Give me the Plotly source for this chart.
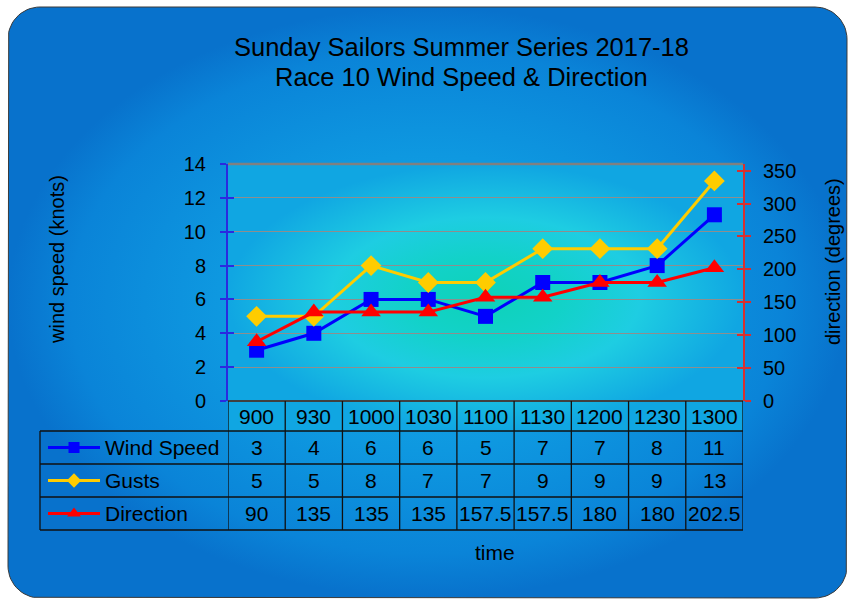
import numpy as np
import plotly.graph_objects as go

# ---------------- data ----------------
times = ["900", "930", "1000", "1030", "1100", "1130", "1200", "1230", "1300"]
wind_speed = [3, 4, 6, 6, 5, 7, 7, 8, 11]
gusts = [5, 5, 8, 7, 7, 9, 9, 9, 13]
direction = [90, 135, 135, 135, 157.5, 157.5, 180, 180, 202.5]
direction_labels = ["90", "135", "135", "135", "157.5", "157.5", "180", "180", "202.5"]

title_lines = ["Sunday Sailors Summer Series 2017-18", "Race 10 Wind Speed & Direction"]

W, H = 848, 599
FONT = "Arial, Liberation Sans, sans-serif"
BLUE = "#0000ff"
GOLD = "#ffcc00"
RED = "#ff0000"

# plot area in pixels
PL, PR, PT, PB = 228, 743, 164, 401
ROWS = [401, 431, 464, 497, 530]   # table row boundaries
TL = 40                            # table left edge

def py(v):
    return 1 - v / H

fig = go.Figure()

# ---------- background (chart area) in pixel subplot ----------
def rounded_rect(x0, y0, x1, y1, r, n=16):
    xs, ys = [], []
    corners = [(x1 - r, y0 + r, -np.pi / 2, 0), (x1 - r, y1 - r, 0, np.pi / 2),
               (x0 + r, y1 - r, np.pi / 2, np.pi), (x0 + r, y0 + r, np.pi, 1.5 * np.pi)]
    for cx, cy, a0, a1 in corners:
        t = np.linspace(a0, a1, n)
        xs += list(cx + r * np.cos(t))
        ys += list(cy + r * np.sin(t))
    xs.append(xs[0]); ys.append(ys[0])
    return xs, ys

bx, by = rounded_rect(8, 7, 847, 598, 32)
fig.add_trace(go.Scatter(
    x=bx, y=by, xaxis="x", yaxis="y", mode="lines", fill="toself",
    line=dict(color="#3a3a3a", width=1),
    fillgradient=dict(type="radial", colorscale=[[0, "#16b0e6"], [0.5, "#0e98e0"],
                                                 [0.85, "#0a84d8"], [1, "#0872cc"]]),
    hoverinfo="skip", showlegend=False))

# plot area gradient (covers plot + header row)
fig.add_trace(go.Scatter(
    x=[PL, PR, PR, PL, PL], y=[PT, PT, ROWS[1], ROWS[1], PT], xaxis="x", yaxis="y",
    mode="lines", fill="toself", line=dict(width=0, color="rgba(0,0,0,0)"),
    fillgradient=dict(type="radial", colorscale=[[0, "#0ed2b8"], [0.3, "#12d2c8"],
                                                 [0.6, "#1ecde2"], [1, "#10a6e2"]]),
    hoverinfo="skip", showlegend=False))

# legend keys in table
keys = [("Wind Speed", BLUE, "square", 11), ("Gusts", GOLD, "diamond", 11), ("Direction", RED, "triangle-up", 12)]
for i, (name, col, sym, ms) in enumerate(keys):
    yc = (ROWS[i + 1] + ROWS[i + 2]) / 2
    fig.add_trace(go.Scatter(x=[48, 100], y=[yc, yc], xaxis="x", yaxis="y", mode="lines",
                             line=dict(color=col, width=3), hoverinfo="skip", showlegend=False))
    fig.add_trace(go.Scatter(x=[74], y=[yc], xaxis="x", yaxis="y", mode="markers",
                             marker=dict(symbol=sym, size=ms, color=col), hoverinfo="skip", showlegend=False))

# ---------- data traces ----------
fig.add_trace(go.Scatter(x=times, y=wind_speed, name="Wind Speed", xaxis="x2", yaxis="y2",
                         mode="lines+markers", line=dict(color=BLUE, width=3),
                         marker=dict(symbol="square", size=15, color=BLUE), showlegend=False))
fig.add_trace(go.Scatter(x=times, y=gusts, name="Gusts", xaxis="x2", yaxis="y2",
                         mode="lines+markers", line=dict(color=GOLD, width=3),
                         marker=dict(symbol="diamond", size=16, color=GOLD), showlegend=False))
fig.add_trace(go.Scatter(x=times, y=direction, name="Direction", xaxis="x2", yaxis="y3",
                         mode="lines+markers", line=dict(color=RED, width=3),
                         marker=dict(symbol="triangle-up", size=17, color=RED), showlegend=False))

# ---------- table ----------
shapes = []
annotations = []
LC = "#101010"
shapes.append(dict(type="line", xref="paper", yref="paper", x0=PL / W, x1=PR / W,
                   y0=py(ROWS[0]), y1=py(ROWS[0]), line=dict(color="#404040", width=2)))
for r in ROWS[1:]:
    shapes.append(dict(type="line", xref="paper", yref="paper", x0=TL / W, x1=PR / W,
                       y0=py(r), y1=py(r), line=dict(color=LC, width=1.3)))
shapes.append(dict(type="line", xref="paper", yref="paper", x0=TL / W, x1=TL / W,
                   y0=py(ROWS[1]), y1=py(ROWS[4]), line=dict(color=LC, width=1.3)))
for i in range(len(times) + 1):
    shapes.append(dict(type="line", xref="x2", yref="paper", x0=i - 0.5, x1=i - 0.5,
                       y0=py(ROWS[0]), y1=py(ROWS[4]), line=dict(color=LC, width=1.3)))
shapes.append(dict(type="line", xref="paper", yref="paper", x0=PL / W, x1=PR / W,
                   y0=py(PT), y1=py(PT), line=dict(color="#808080", width=2.5)))

rows_text = [times, [str(v) for v in wind_speed], [str(v) for v in gusts], direction_labels]
for ri, vals in enumerate(rows_text):
    yc = (ROWS[ri] + ROWS[ri + 1]) / 2
    for ci, t in enumerate(vals):
        annotations.append(dict(x=ci, xref="x2", y=py(yc), yref="paper", text=t,
                                showarrow=False, font=dict(size=21, color="#000", family=FONT),
                                xanchor="center", yanchor="middle"))
for i, (name, col, sym, ms) in enumerate(keys):
    yc = (ROWS[i + 1] + ROWS[i + 2]) / 2
    annotations.append(dict(x=103 / W, xref="paper", y=py(yc), yref="paper", text=name,
                            showarrow=False, font=dict(size=21, color="#000", family=FONT),
                            xanchor="left", yanchor="middle"))

for i, t in enumerate(title_lines):
    annotations.append(dict(x=461 / W, xref="paper", y=py(47 + 30 * i), yref="paper", text=t,
                            showarrow=False, font=dict(size=25.5, color="#000", family=FONT),
                            xanchor="center", yanchor="middle"))
annotations.append(dict(x=57 / W, xref="paper", y=py(260), yref="paper", text="wind speed (knots)",
                        textangle=-90, showarrow=False, font=dict(size=20, color="#000", family=FONT),
                        xanchor="center", yanchor="middle"))
annotations.append(dict(x=833 / W, xref="paper", y=py(262), yref="paper", text="direction (degrees)",
                        textangle=-90, showarrow=False, font=dict(size=20, color="#000", family=FONT),
                        xanchor="center", yanchor="middle"))
annotations.append(dict(x=495 / W, xref="paper", y=py(552), yref="paper", text="time",
                        showarrow=False, font=dict(size=21, color="#000", family=FONT),
                        xanchor="center", yanchor="middle"))

ydom = [1 - PB / H, 1 - PT / H]
xdom = [PL / W, PR / W]
fig.update_layout(
    width=W, height=H, margin=dict(l=0, r=0, t=0, b=0, pad=0, autoexpand=False), autosize=False,
    paper_bgcolor="white", plot_bgcolor="rgba(0,0,0,0)",
    font=dict(family=FONT, color="#000"),
    xaxis=dict(domain=[0, 1], range=[0, W], visible=False, fixedrange=True, automargin=False),
    yaxis=dict(domain=[0, 1], range=[H, 0], visible=False, fixedrange=True, automargin=False),
    xaxis2=dict(domain=xdom, anchor="y2", type="category", range=[-0.5, len(times) - 0.5],
                showticklabels=False, showgrid=False, showline=False, ticks="", zeroline=False,
                automargin=False),
    yaxis2=dict(domain=ydom, anchor="x2", range=[0, 14], dtick=2, tick0=0, automargin=False,
                showgrid=True, gridcolor="#8e8e8e", gridwidth=1, zeroline=False,
                showline=True, linecolor="#2a2ae0", linewidth=2,
                ticks="outside", ticklen=6, tickcolor="#2a2ae0", tickwidth=1.5,
                tickfont=dict(size=20, family=FONT, color="#000"), ticklabelstandoff=10),
    yaxis4=dict(domain=ydom, anchor="x2", overlaying="y2", side="left", range=[0, 14], dtick=2,
                showgrid=False, zeroline=False, showline=False, showticklabels=False,
                ticks="inside", ticklen=6, tickcolor="#2a2ae0", tickwidth=1.5, automargin=False),
    yaxis3=dict(anchor="x2", overlaying="y2", side="right", range=[0, 360], dtick=50, tick0=0,
                showgrid=False, zeroline=False, showline=True, linecolor="#d83030", linewidth=2,
                ticks="outside", ticklen=6, tickcolor="#d83030", tickwidth=1.5, automargin=False,
                tickfont=dict(size=20, family=FONT, color="#000"), ticklabelstandoff=8),
    yaxis5=dict(anchor="x2", overlaying="y2", side="right", range=[0, 360], dtick=50,
                showgrid=False, zeroline=False, showline=False, showticklabels=False,
                ticks="inside", ticklen=6, tickcolor="#d83030", tickwidth=1.5, automargin=False),
    shapes=shapes, annotations=annotations, showlegend=False,
)
fig.add_trace(go.Scatter(x=[times[0]], y=[None], xaxis="x2", yaxis="y4", showlegend=False, hoverinfo="skip"))
fig.add_trace(go.Scatter(x=[times[0]], y=[None], xaxis="x2", yaxis="y5", showlegend=False, hoverinfo="skip"))

fig.write_html("out.html", config={"displayModeBar": False},
               post_script="document.body.style.margin='0px';document.body.style.overflow='hidden';")
